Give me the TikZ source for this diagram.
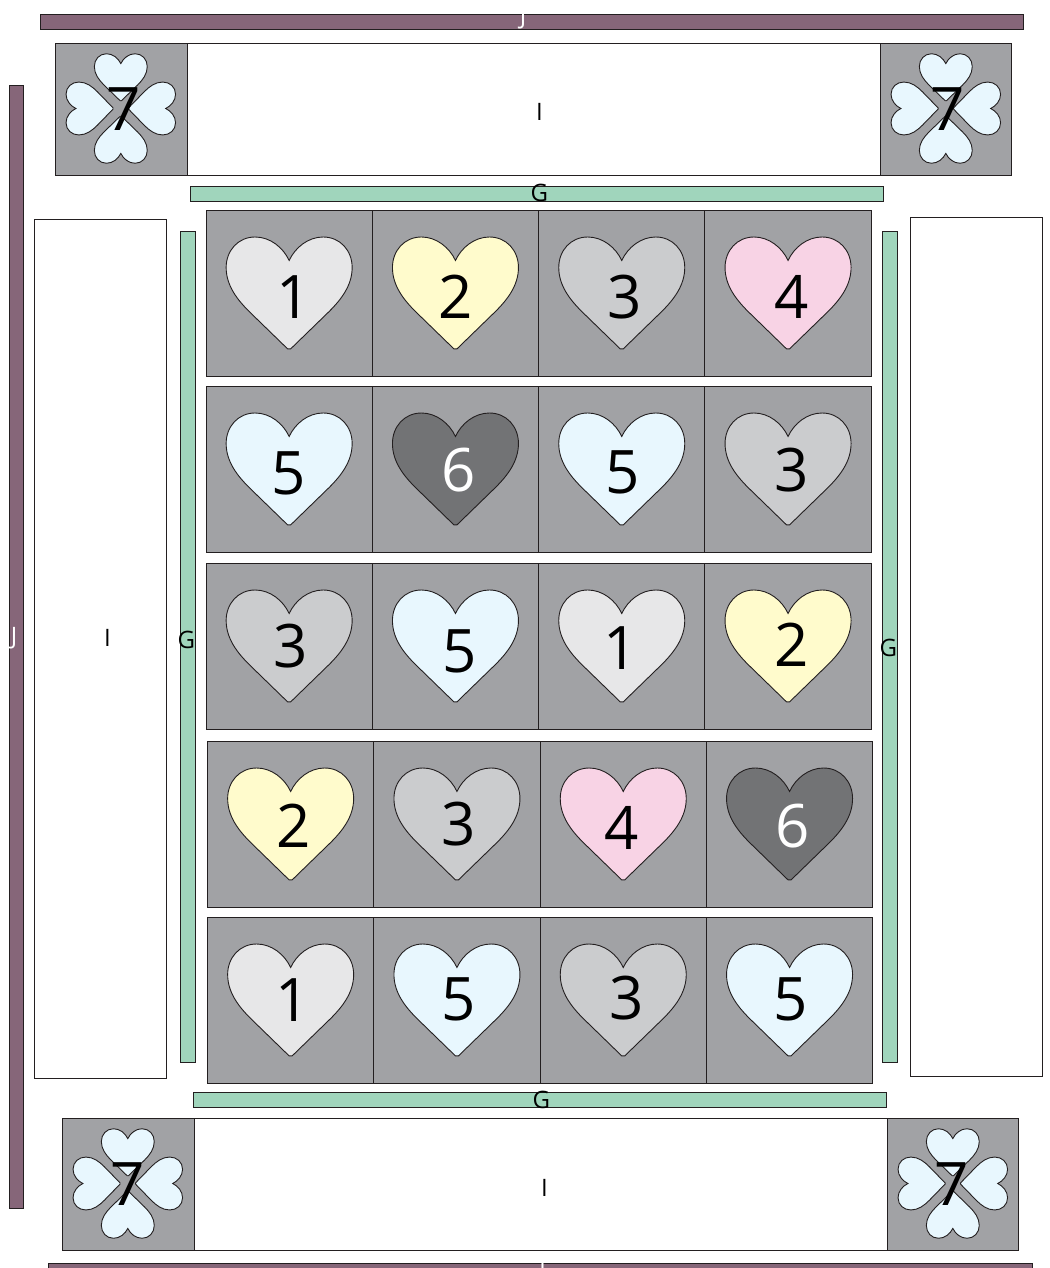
\documentclass[tikz,border=0pt]{standalone}
\usepackage{fontspec}
\setmainfont{Open Sans}
\usepackage{xcolor}

\definecolor{blockgray}{HTML}{A1A2A5}
\definecolor{heart1}{HTML}{E7E7E8}
\definecolor{heart2}{HTML}{FFFBCC}
\definecolor{heart3}{HTML}{CBCCCE}
\definecolor{heart4}{HTML}{F8D3E5}
\definecolor{heart5}{HTML}{E8F7FE}
\definecolor{heart6}{HTML}{727375}
\definecolor{sashgreen}{HTML}{A0D5BC}
\definecolor{bindplum}{HTML}{866679}
\definecolor{edgeink}{HTML}{231F20}

\tikzset{
  panel/.style n args={3}{draw=edgeink, line width=0.9pt, fill=#3, anchor=north west,
    inner sep=0pt, outer sep=0pt, minimum width=#1 pt, minimum height=#2 pt},
  digit/.style={font=\fontsize{60}{60}\selectfont, inner sep=0pt, text=black},
  numtext6/.style={text=white},
  tag/.style={font=\fontsize{24}{24}\selectfont, inner sep=0pt, text=black},
  heart/.pic={
    \draw[pic actions, line width=0.9pt, draw=edgeink] (0,-89)
      .. controls (-6,-102) and (-19,-112.5) .. (-34,-112.5)
      .. controls (-51,-112.5) and (-63,-99) .. (-63,-82)
      .. controls (-63,-64) and (-52,-50) .. (-40,-38)
      -- (-1.5,-0.6) .. controls (-0.7,0) and (0.7,0) .. (1.5,-0.6) -- (40,-38)
      .. controls (52,-50) and (63,-64) .. (63,-82)
      .. controls (63,-99) and (51,-112.5) .. (34,-112.5)
      .. controls (19,-112.5) and (6,-102) .. (0,-89) -- cycle;
  }
}

\begin{document}
\begin{tikzpicture}[x=1pt, y=-1pt]
  \useasboundingbox (0,0) rectangle (1049,1268);

  % binding
  \node[panel={983.5}{14.5}{bindplum}] (bindtop) at (40,14.5) {};
  \node[panel={14}{1123}{bindplum}] (bindleft) at (9.5,85) {};
  \node[panel={984}{15}{bindplum}] (bindbottom) at (48,1263) {};
  \node[tag, text=white] (jtop) at (523,18) {J};
  \node[tag, text=white] (jleft) at (14,638) {J};
  \node[tag, text=white] (jbottom) at (542.5,1270) {J};

  % borders
  \node[panel={132}{859}{white}] (borderleft) at (34.5,219) {};
  \node[panel={132}{859}{white}] (borderright) at (910.5,217) {};
  \node[panel={693}{132}{white}] (bordertop) at (187,43) {};
  \node[panel={693}{132}{white}] (borderbottom) at (194,1118) {};
  \node[tag] (itop) at (539.4,112) {I};
  \node[tag] (ileft) at (107.4,638) {I};
  \node[tag] (ibottom) at (544.4,1188) {I};

  % sashing
  \node[panel={693}{15}{sashgreen}] (sashtop) at (190.5,186) {};
  \node[panel={693}{15}{sashgreen}] (sashbottom) at (193.5,1092) {};
  \node[panel={14.5}{831}{sashgreen}] (sashleft) at (180.5,231) {};
  \node[panel={14.5}{831}{sashgreen}] (sashright) at (882.5,231) {};
  \node[tag] (gtop) at (539.4,193) {G};
  \node[tag] (gbottom) at (541.4,1100) {G};
  \node[tag] (gleft) at (186.4,640) {G};
  \node[tag] (gright) at (888.4,648) {G};

  % corner blocks
  \foreach \cornerid/\cornerx/\cornery/\cornerw/\sevenx in {a/55/43/132/123.4, b/880/43/131/947.4, c/62/1118/132/127.4, d/887/1118/131/951.4} {
    \node[panel={\cornerw}{132}{blockgray}] (corner\cornerid) at (\cornerx,\cornery) {};
    \foreach \turn in {0,90,180,270}
      \pic[fill=heart5, rotate=\turn, shift={(0,-7.5)}, scale=.42] at (\cornerx+65.8,\cornery+65.5) {heart};
    \node[digit] (seven\cornerid) at (\sevenx,\cornery+66) {7};
  }

  % heart blocks
  \foreach \rowid/\rowx/\rowy/\cells in {
    1/206/210/{0/1/4/4, 1/2/0/4, 2/3/3/4, 3/4/4/4},
    2/206/386/{0/5/-1/4, 1/6/3/1, 2/5/1/3, 3/3/4/1},
    3/206/563/{0/3/1/0, 1/5/4/5, 2/1/-1/2, 3/2/4/-1},
    4/207.5/741/{0/2/3/2, 1/3/2/0, 2/4/-2/4, 3/6/3/2},
    5/207.5/917/{0/1/2/0, 1/5/2/-1, 2/3/3/-2, 3/5/1/-1}} {
    \foreach \col/\n/\nudgex/\nudgey in \cells {
      \node[panel={166.3}{166.5}{blockgray}] (cell\rowid-\col) at (\rowx+\col*166.3,\rowy) {};
      \pic[fill=heart\n] at (cell\rowid-\col.center |- 0,\rowy+139.5) {heart};
      \node[digit, numtext\n/.try] (num\rowid-\col) at (\rowx+\col*166.3+83.15+\nudgex,\rowy+83+\nudgey) {\n};
    }
  }
\end{tikzpicture}
\end{document}
